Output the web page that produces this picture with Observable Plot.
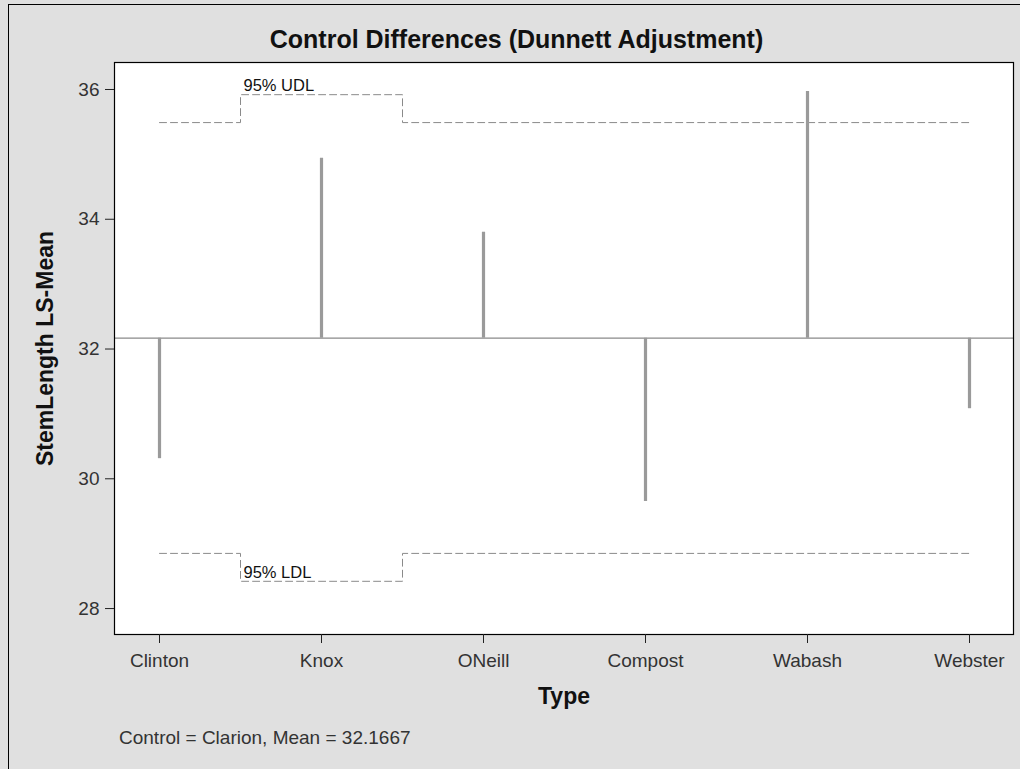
<!DOCTYPE html>
<html>
<head>
<meta charset="utf-8">
<script src="https://cdn.jsdelivr.net/npm/d3@7"></script>
<script src="https://cdn.jsdelivr.net/npm/@observablehq/plot@0.6"></script>
<style>
  html, body { margin: 0; padding: 0; background: #e0e0e0; width: 1020px; height: 769px; overflow: hidden;
    font-family: "Liberation Sans", Arial, sans-serif; }
  #border { position: absolute; left: 8px; top: 4px; width: 1100px; height: 900px;
    border-left: 1px solid #000; border-top: 1px solid #000; }
  #title { position: absolute; left: 0; top: 27px; width: 1033px; text-align: center;
    font-size: 25px; line-height: 25px; font-weight: bold; color: #111; }
  #chart { position: absolute; left: 0; top: 55px; }
  #caption { position: absolute; left: 119px; top: 728px; font-size: 19px; line-height: 19px; color: #333; }
</style>
</head>
<body>
<div id="border"></div>
<div id="title">Control Differences (Dunnett Adjustment)</div>
<div id="chart"></div>
<div id="caption"></div>
<script>
// Least-squares means of stem length by type, compared with the control
const types = ["Clinton", "Knox", "ONeill", "Compost", "Wabash", "Webster"];
const lsMeans = [30.31, 34.94, 33.80, 29.65, 35.97, 31.08];
const upperLimits = [35.49, 35.92, 35.49, 35.49, 35.49, 35.49];
const lowerLimits = [28.85, 28.42, 28.85, 28.85, 28.85, 28.85];
const controlName = "Clarion";
const controlMean = 32.1667;
const yTicks = [28, 30, 32, 34, 36];
const yLabel = "StemLength LS-Mean";
const xLabel = "Type";

const rows = types.map((type, i) => ({
  type, mean: lsMeans[i], udl: upperLimits[i], ldl: lowerLimits[i]
}));
const limitLabels = [
  {type: "Knox", y: upperLimits[1], label: "95% UDL"},
  {type: "Knox", y: lowerLimits[1], label: "95% LDL"}
];

const chart = Plot.plot({
  width: 1020,
  height: 660,
  marginLeft: 114,
  marginRight: 7,
  marginTop: 7,
  marginBottom: 81,
  style: {background: "transparent", fontFamily: "Liberation Sans, Arial, sans-serif", fontSize: "19px", color: "#222"},
  x: {type: "point", domain: types, padding: 0.265},
  y: {domain: [27.6, 36.416]},
  marks: [
    Plot.frame({fill: "white", stroke: null}),
    Plot.ruleY([controlMean], {stroke: "#8a8a8a", strokeWidth: 1.2}),
    Plot.line(rows, {x: "type", y: "udl", curve: "step", stroke: "#8a8a8a", strokeWidth: 1, strokeDasharray: "7,4"}),
    Plot.line(rows, {x: "type", y: "ldl", curve: "step", stroke: "#8a8a8a", strokeWidth: 1, strokeDasharray: "7,4"}),
    Plot.ruleX(rows, {x: "type", y1: () => controlMean, y2: "mean", stroke: "#9a9a9a", strokeWidth: 3.2}),
    Plot.text(limitLabels, {x: "type", y: "y", text: "label", dx: -78, dy: -9, textAnchor: "start",
      fontSize: 16.5, fill: "#111"}),
    Plot.frame({stroke: "#000", strokeWidth: 1.2}),
    Plot.axisY({ticks: yTicks, tickSize: 9, tickPadding: 6, label: null, fill: "#333"}),
    Plot.axisX({tickSize: 9, tickPadding: 10, label: null, fill: "#333"}),
    Plot.text([yLabel], {frameAnchor: "left", rotate: -90, dx: -69, textAnchor: "middle", lineAnchor: "middle",
      fontSize: 23, fontWeight: "bold", fill: "#111"}),
    Plot.text([xLabel], {frameAnchor: "bottom", dy: 62, textAnchor: "middle", lineAnchor: "middle",
      fontSize: 23, fontWeight: "bold", fill: "#111"})
  ]
});
document.getElementById("chart").appendChild(chart);
document.getElementById("caption").textContent = `Control = ${controlName}, Mean = ${controlMean}`;
</script>
</body>
</html>
